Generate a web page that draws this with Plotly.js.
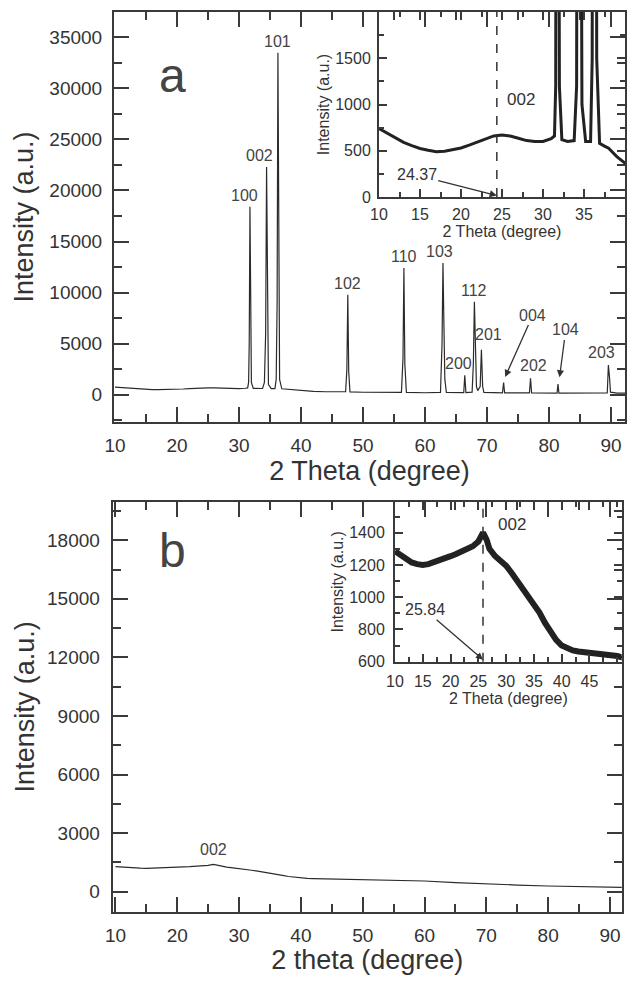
<!DOCTYPE html>
<html>
<head>
<meta charset="utf-8">
<script src="https://cdn.plot.ly/plotly-3.0.1.min.js"></script>
<style>
  html, body { margin: 0; padding: 0; background: #fff; }
  #chart { width: 627px; height: 983px; }
</style>
</head>
<body>
<div id="chart"></div>
<script>
// ---------- DATA ----------
// Panel a: XRD pattern (2 theta in degree, intensity in a.u.)
const twoThetaA = [
  10, 11, 12, 13, 14, 15, 16, 17, 18, 19, 20, 21, 22, 23, 24, 25, 26, 27, 28, 29, 30, 31,
  31.4, 31.55, 31.65, 31.77, 31.9, 32.0, 32.3, 33.0, 33.8,
  34.1, 34.3, 34.45, 34.6, 34.75, 35.2, 35.8,
  36.0, 36.15, 36.28, 36.42, 36.55, 36.9, 37.5, 38, 39, 40, 42, 44, 46,
  47.2, 47.4, 47.55, 47.7, 47.9, 50, 53,
  56.2, 56.45, 56.6, 56.75, 57.0, 60,
  62.5, 62.75, 62.9, 63.05, 63.2, 63.45, 65,
  66.25, 66.42, 66.6, 67.6, 67.8, 67.97, 68.12, 68.3, 68.5,
  68.9, 69.1, 69.3, 69.5,
  72.5, 72.68, 72.85, 76.85, 77.02, 77.2,
  81.3, 81.45, 81.6, 89.4, 89.58, 89.75, 89.92, 91, 92.3
];
const intensityA = [
  740, 690, 635, 590, 555, 525, 505, 490, 495, 510, 530, 560, 595, 630, 660, 670, 660, 635, 610, 600, 600, 630,
  660, 1200, 5000, 18400, 5000, 1200, 620, 600, 610,
  1200, 6000, 22300, 5000, 1000, 600, 600,
  1500, 9000, 33500, 8000, 1500, 580, 550, 527, 436, 367, 320, 290, 270,
  290, 2500, 9800, 2200, 280, 240, 210,
  230, 3500, 12400, 3000, 220, 190,
  220, 5000, 12900, 7000, 1500, 220, 180,
  200, 1900, 200, 250, 3000, 9100, 5000, 800, 400,
  800, 4400, 800, 220,
  170, 1180, 170, 170, 1600, 170,
  160, 1050, 160, 170, 2900, 1800, 250, 150, 150
];
const peakLabelsA = ['100', '002', '101', '102', '110', '103', '200', '112', '201', '202', '203'];
const peakPosA    = [31.77, 34.45, 36.28, 47.55, 56.6, 62.9, 66.42, 67.97, 69.1, 77.02, 89.58];
const peakHeightA = [18400, 22300, 33500, 9800, 12400, 12900, 1900, 9100, 4400, 1600, 2900];
const arrowLabelsA = ['004', '104'];
const arrowPosA    = [72.68, 81.45];
const arrowHeightA = [1180, 1050];
const peak002A = 24.37;

// Panel b: XRD pattern
const twoThetaB = [
  10, 11, 12, 13, 14, 15, 16, 17, 18, 19, 20, 21, 22, 23, 24, 25, 25.84, 26.5, 27, 28, 29, 30,
  31, 32, 33, 34, 35, 36, 37, 38, 39, 40, 41, 42, 43, 44, 45, 47, 50, 55, 60, 65, 70, 75, 80, 85, 90, 92
];
const intensityB = [
  1285, 1260, 1235, 1215, 1205, 1200, 1205, 1215, 1230, 1242, 1254, 1268, 1282, 1298, 1316, 1345, 1400, 1355, 1300, 1255, 1225, 1195,
  1150, 1100, 1050, 1005, 965, 905, 840, 780, 735, 700, 680, 670, 663, 658, 652, 645, 635, 590, 548, 470, 394, 340, 292, 255, 225, 220
];
const peak002B = 25.84;

// ---------- STYLE ----------
const FONT = 'Liberation Sans, Arial, sans-serif';
const TXT = '#333';
const AX = '#3a3a3a';
const W = 627, H = 983;
const px = v => v / W;            // horizontal pixel -> paper
const py = v => 1 - v / H;        // vertical pixel -> paper

function ax(o) {
  return Object.assign({
    showline: true, linecolor: AX, linewidth: 2, mirror: 'ticks',
    ticks: 'inside', tickcolor: AX, tickwidth: 2,
    showgrid: false, zeroline: false,
    tickfont: { family: FONT, size: 19, color: TXT }
  }, o);
}
const minorTicks = (d, len) => ({ tick0: 0, dtick: d, ticklen: len, ticks: 'inside', tickcolor: AX, tickwidth: 2 });

const traces = [
  { x: twoThetaA, y: intensityA, xaxis: 'x', yaxis: 'y', type: 'scatter', mode: 'lines',
    line: { color: '#2b2b2b', width: 1.2 }, hoverinfo: 'skip' },
  { x: twoThetaA, y: intensityA, xaxis: 'x2', yaxis: 'y2', type: 'scatter', mode: 'lines',
    line: { color: '#222', width: 3 }, hoverinfo: 'skip' },
  { x: twoThetaB, y: intensityB, xaxis: 'x3', yaxis: 'y3', type: 'scatter', mode: 'lines',
    line: { color: '#2b2b2b', width: 1.2 }, hoverinfo: 'skip' },
  { x: twoThetaB, y: intensityB, xaxis: 'x4', yaxis: 'y4', type: 'scatter', mode: 'lines',
    line: { color: '#222', width: 6 }, hoverinfo: 'skip' }
];

const labelShift = {
  '100': [-5, 1], '002': [-7, 1], '101': [0, 1], '102': [0, 1], '110': [0, 1], '103': [-3, 1],
  '200': [-6, 1], '112': [0, 1], '201': [7, 5], '202': [3, 2], '203': [-7, 2]
};
const arrowText = { '004': [77.4, 7800], '104': [82.7, 6340] };
const arrowHead = { '004': [0.25, 550], '104': [0.25, 650] };

const annotations = [];
peakLabelsA.forEach((t, i) => {
  annotations.push({
    text: t, x: peakPosA[i], y: peakHeightA[i], xref: 'x', yref: 'y',
    xanchor: 'center', yanchor: 'bottom', showarrow: false,
    xshift: labelShift[t][0], yshift: labelShift[t][1],
    font: { family: FONT, size: 16, color: '#444' }
  });
});
arrowLabelsA.forEach((t, i) => {
  annotations.push({
    text: t, x: arrowPosA[i] + arrowHead[t][0], y: arrowHeightA[i] + arrowHead[t][1],
    xref: 'x', yref: 'y', axref: 'x', ayref: 'y',
    ax: arrowText[t][0], ay: arrowText[t][1],
    showarrow: true, arrowhead: 2, arrowsize: 1.1, arrowwidth: 1.3, arrowcolor: '#333',
    font: { family: FONT, size: 16, color: '#444' }
  });
});
annotations.push({ text: 'a', x: px(157), y: py(47), xref: 'paper', yref: 'paper', showarrow: false,
  font: { family: FONT, size: 48, color: '#444' } });
annotations.push({ text: 'b', x: px(157), y: py(550), xref: 'paper', yref: 'paper', showarrow: false,
  font: { family: FONT, size: 48, color: '#444' } });
annotations.push({ text: '002', x: peak002A, y: 1050, xref: 'x2', yref: 'y2', xanchor: 'left',
  xshift: 8, showarrow: false, font: { family: FONT, size: 17, color: TXT } });
annotations.push({ text: '24.37', x: peak002A, y: 15, xref: 'x2', yref: 'y2', axref: 'x2', ayref: 'y2',
  ax: 14.6, ay: 238, showarrow: true, arrowhead: 2, arrowsize: 1.1, arrowwidth: 1.3, arrowcolor: '#333',
  font: { family: FONT, size: 16, color: TXT } });
annotations.push({ text: '002', x: peak002B, y: 1400, xref: 'x3', yref: 'y3', yanchor: 'bottom',
  yshift: 4, showarrow: false, font: { family: FONT, size: 16, color: '#444' } });
annotations.push({ text: '002', x: peak002B, y: 1452, xref: 'x4', yref: 'y4', xanchor: 'left',
  xshift: 13, showarrow: false, font: { family: FONT, size: 17, color: TXT } });
annotations.push({ text: '25.84', x: peak002B, y: 612, xref: 'x4', yref: 'y4', axref: 'x4', ayref: 'y4',
  ax: 15.4, ay: 922, showarrow: true, arrowhead: 2, arrowsize: 1.1, arrowwidth: 1.3, arrowcolor: '#333',
  font: { family: FONT, size: 16, color: TXT } });

const shapes = [
  { type: 'line', xref: 'x2', yref: 'y2 domain', x0: peak002A, x1: peak002A, y0: 0, y1: 1,
    line: { color: '#333', width: 1.5, dash: 'dash' } },
  { type: 'line', xref: 'x4', yref: 'y4 domain', x0: peak002B, x1: peak002B, y0: 0, y1: 1,
    line: { color: '#333', width: 1.5, dash: 'dash' } }
];

const insetTick = { family: FONT, size: 16, color: TXT };

const layout = {
  width: W, height: H,
  margin: { l: 0, r: 0, t: 0, b: 0 },
  paper_bgcolor: '#fff', plot_bgcolor: 'rgba(0,0,0,0)',
  showlegend: false,
  font: { family: FONT, color: TXT },
  // main a
  xaxis: ax({ domain: [px(114), px(625)], anchor: 'y', range: [9.84, 92.26],
    tick0: 0, dtick: 10, ticklen: 15, ticklabelstandoff: 5, minor: minorTicks(5, 8),
    title: { text: '2 Theta (degree)', font: { family: FONT, size: 27, color: TXT }, standoff: 0 } }),
  yaxis: ax({ domain: [py(422), py(12)], anchor: 'x', range: [-2673, 37480],
    tick0: 0, dtick: 5000, tickformat: 'd', ticklen: 15, ticklabelstandoff: 6, minor: minorTicks(2500, 8),
    title: { text: 'Intensity (a.u.)', font: { family: FONT, size: 27, color: TXT }, standoff: 8 } }),
  // inset a
  xaxis2: ax({ domain: [px(379), px(625)], anchor: 'y2', range: [10, 40],
    tickvals: [10, 15, 20, 25, 30, 35], ticklen: 8, tickfont: insetTick, ticklabelstandoff: 2,
    minor: minorTicks(2.5, 5),
    title: { text: '2 Theta (degree)', font: { family: FONT, size: 16, color: TXT }, standoff: 0 } }),
  yaxis2: ax({ domain: [py(197), py(12)], anchor: 'x2', range: [0, 2000],
    tickvals: [0, 500, 1000, 1500], ticklen: 8, tickfont: insetTick, ticklabelstandoff: 3,
    minor: minorTicks(250, 5),
    title: { text: 'Intensity (a.u.)', font: { family: FONT, size: 16, color: TXT }, standoff: 2 } }),
  // main b
  xaxis3: ax({ domain: [px(112.7), px(621.7)], anchor: 'y3', range: [9.55, 91.9],
    tick0: 0, dtick: 10, ticklen: 15, ticklabelstandoff: 5, minor: minorTicks(5, 8),
    title: { text: '2 theta (degree)', font: { family: FONT, size: 27, color: TXT }, standoff: 2 } }),
  yaxis3: ax({ domain: [py(911.7), py(502)], anchor: 'x3', range: [-1024, 19960],
    tick0: 0, dtick: 3000, tickformat: 'd', ticklen: 15, ticklabelstandoff: 7, minor: minorTicks(1500, 8),
    title: { text: 'Intensity (a.u.)', font: { family: FONT, size: 27, color: TXT }, standoff: 5 } }),
  // inset b
  xaxis4: ax({ domain: [px(395), px(621.7)], anchor: 'y4', range: [10, 50.8],
    tickvals: [10, 15, 20, 25, 30, 35, 40, 45], ticklen: 8, tickfont: insetTick, ticklabelstandoff: 4,
    minor: minorTicks(2.5, 5),
    title: { text: '2 Theta (degree)', font: { family: FONT, size: 16, color: TXT }, standoff: 2 } }),
  yaxis4: ax({ domain: [py(661.7), py(502)], anchor: 'x4', range: [600, 1590],
    tickvals: [600, 800, 1000, 1200, 1400], ticklen: 8, tickfont: insetTick, ticklabelstandoff: 5,
    minor: minorTicks(100, 5),
    title: { text: 'Intensity (a.u.)', font: { family: FONT, size: 16, color: TXT }, standoff: 2 } }),
  annotations: annotations,
  shapes: shapes
};

Plotly.newPlot('chart', traces, layout, { displayModeBar: false });
</script>
</body>
</html>
